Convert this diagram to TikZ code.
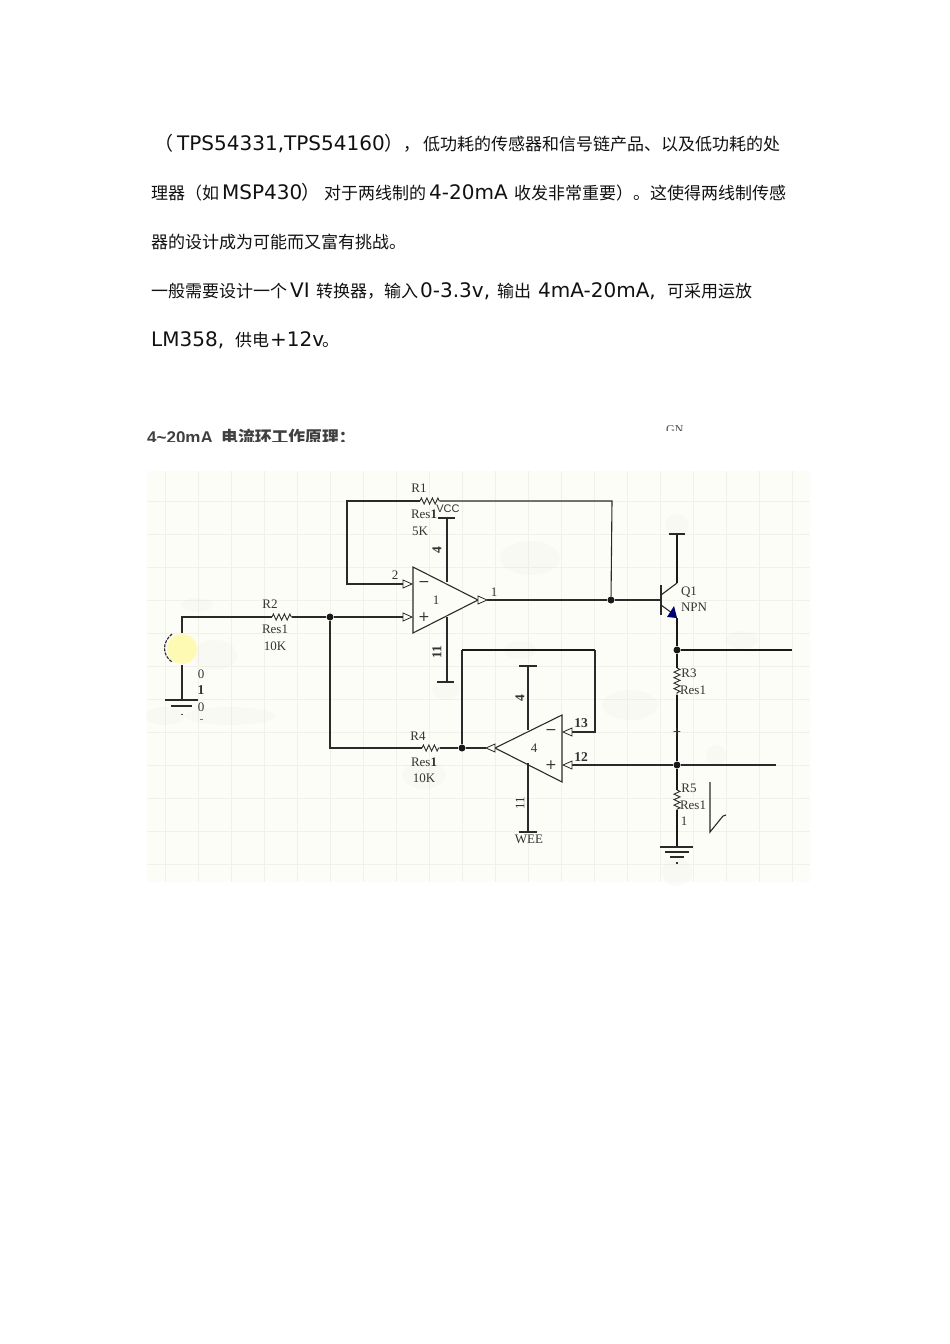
\documentclass[tikz,border=0pt]{standalone}
\usepackage{fontspec}
\setmainfont{DejaVu Sans}
\newfontfamily\cjk{Noto Sans CJK SC}
\newfontfamily\serifl{Liberation Serif}
\newfontfamily\headl{Liberation Sans}
\usetikzlibrary{decorations.pathmorphing,calc}
\definecolor{bgc}{HTML}{FDFDF8}
\definecolor{gridc}{HTML}{F1F1EA}
\definecolor{wirec}{HTML}{2A2A2A}
\definecolor{txt}{HTML}{111111}
\tikzset{
 x=1pt,y=-1pt,
 lat/.style={anchor=base west,inner sep=0,font=\fontsize{20}{20}\selectfont,text=txt},
 han/.style={anchor=base west,inner sep=0,font=\cjk\fontsize{17}{17}\selectfont,text=txt},
 wire/.style={draw=wirec,line width=1.1pt,line join=miter},
 thick wire/.style={draw=black!90,line width=1.7pt},
 lab/.style={inner sep=0,font=\serifl\fontsize{13}{13}\selectfont,text=black!80},
 blab/.style={inner sep=0,font=\serifl\bfseries\fontsize{13.5}{13.5}\selectfont,text=black!80},
 res/.style={draw=wirec,line width=0.9pt,decorate,decoration={zigzag,amplitude=3pt,segment length=5.5pt}},
 junction/.style={circle,fill=black!90,inner sep=0,minimum size=7pt},
 pinmark/.style={draw=wirec,line width=0.8pt,fill=bgc},
 smudge/.style={fill=black!30,opacity=0.045,draw=none},
}
\newcommand{\pinright}[2]{\draw[pinmark] (#1,#2-4)--(#1,#2+4)--(#1+9,#2)--cycle;}
\newcommand{\pinleft}[2]{\draw[pinmark] (#1,#2-4)--(#1,#2+4)--(#1-9,#2)--cycle;}
\begin{document}
\begin{tikzpicture}
\useasboundingbox (0,0) rectangle (950,1344);
\fill[white] (0,0) rectangle (950,1344);
% paragraph
\node[han,font=\cjk\fontsize{19}{19}\selectfont] (a0) at (154,150) {（};
\node[lat] (a1) at (177,150) {TPS54331,TPS54160};
\node[han,font=\cjk\fontsize{19}{19}\selectfont] (a2) at (384,150) {）};
\node[han] (a3) at (403,150) {，};
\node[han] (a4) at (423,150) {低功耗的传感器和信号链产品、以及低功耗的处};
\node[han] (b1) at (151,199) {理器（如};
\node[lat] (b2) at (222,199) {MSP430};
\node[han,font=\cjk\fontsize{19}{19}\selectfont] (b2b) at (301,199) {）};
\node[han] (b3) at (324,199) {对于两线制的};
\node[lat] (b4) at (429,199) {4-20mA};
\node[han] (b5) at (514,199) {收发非常重要）。这使得两线制传感};
\node[han] (c1) at (151,248) {器的设计成为可能而又富有挑战。};
\node[han] (d1) at (151,297) {一般需要设计一个};
\node[lat] (d2) at (290,297) {VI};
\node[han] (d3) at (316,297) {转换器，输入};
\node[lat] (d4) at (420,297) {0-3.3v,};
\node[han] (d5) at (497,297) {输出};
\node[lat] (d6) at (538,297) {4mA-20mA,};
\node[han] (d7) at (667,297) {可采用运放};
\node[lat] (e1) at (151,346) {LM358,};
\node[han] (e2) at (235,346) {供电};
\node[lat] (e3) at (270,346) {+12v};
\node[han] (e4) at (322,346) {。};
% clipped captions
\begin{scope}
\clip (140,420) rectangle (400,441);
\node[anchor=base west,inner sep=0,font=\headl\bfseries\fontsize{17}{17}\selectfont,text=black!75] (h1) at (147,443) {4\textasciitilde20mA};
\node[anchor=base west,inner sep=0,font=\cjk\bfseries\fontsize{16.8}{16.8}\selectfont,text=black!75] (h2) at (221,443) {电流环工作原理：};
\end{scope}
\begin{scope}
\clip (660,420) rectangle (690,430);
\node[anchor=base west,inner sep=0,font=\serifl\fontsize{12}{12}\selectfont,text=black!70] (gn) at (666,433) {GN};
\end{scope}
% schematic background
\fill[bgc] (147,471) rectangle (810,882);
\foreach \gx in {165,198,...,800} \draw[gridc,line width=0.7pt] (\gx,471)--(\gx,882);
\foreach \gy in {501,534,...,880} \draw[gridc,line width=0.7pt] (147,\gy)--(810,\gy);
% smudges
\fill[smudge] (530,558) ellipse (30 and 17);
\fill[smudge] (677,525) ellipse (12 and 11);
\fill[smudge] (742,640) ellipse (16 and 9);
\fill[smudge] (197,605) ellipse (16 and 7);
\fill[smudge] (165,716) ellipse (20 and 9);
\fill[smudge] (230,716) ellipse (45 and 9);
\fill[smudge] (520,650) ellipse (16 and 9);
\fill[smudge] (446,690) ellipse (14 and 10);
\fill[smudge] (630,705) ellipse (28 and 15);
\fill[smudge] (716,755) ellipse (10 and 10);
\fill[smudge] (677,872) ellipse (15 and 14);
\fill[smudge] (215,655) ellipse (22 and 15);
\fill[smudge] (424,775) ellipse (22 and 14);
% coordinates
\coordinate (srcTop) at (182,633);
\coordinate (srcCorner) at (182,617);
\coordinate (r2a) at (272,617);
\coordinate (r2b) at (292,617);
\node[junction] (j1) at (330,617) {};
\coordinate (ipIn) at (403,617);
\coordinate (imIn) at (403,584);
\coordinate (fbL) at (347,584);
\coordinate (fbTL) at (347,501);
\coordinate (r1a) at (420,501);
\coordinate (r1b) at (440,501);
\coordinate (fbTR) at (612,501);
\node[junction] (j2) at (611,600) {};
\coordinate (out1) at (487,600);
\coordinate (base) at (661,600);
\coordinate (cBar) at (677,534);
\coordinate (cKnee) at (677,583);
\coordinate (eKnee) at (677,618);
\node[junction] (j3) at (677,650) {};
\node[junction] (j4) at (677,765) {};
\node[junction] (j5) at (462,748) {};
\coordinate (r3a) at (677,668);
\coordinate (r3b) at (677,695);
\coordinate (r5a) at (677,790);
\coordinate (r5b) at (677,810);
\coordinate (gnd2) at (677,847);
\coordinate (r4a) at (422,748);
\coordinate (r4b) at (440,748);
\coordinate (j1d) at (330,748);
\coordinate (tR) at (792,650);
\coordinate (fb2a) at (462,650);
\coordinate (fb2b) at (595,650);
\coordinate (fb2c) at (595,732);
\coordinate (in2m) at (571,732);
\coordinate (in2p) at (571,765);
\coordinate (sense) at (776,765);
\coordinate (tip2) at (486,748);
% wires
\draw[wire] (srcTop)--(srcCorner)--(r2a);
\draw[res] (r2a)--(r2b);
\draw[wire] (r2b)--(j1)--(ipIn);
\draw[wire] (j1)--(j1d)--(r4a);
\draw[res] (r4a)--(r4b);
\draw[wire] (r4b)--(j5);
\draw[wire] (j5)--(tip2);
\draw[wire] (j5)--(fb2a);
\draw[thick wire] (fb2a)--(fb2b);
\draw[wire] (fb2b)--(fb2c)--(in2m);
\draw[wire] (imIn)--(fbL)--(fbTL)--(r1a);
\draw[res] (r1a)--(r1b);
\draw[wire] (r1b)--(fbTR)--(j2);
\draw[wire] (out1)--(j2)--(base);
\draw[wire] (in2p)--(j4)--(sense);
\draw[thick wire] (j3)--(tR);
% op amps
\node[inner sep=0] (ampa) at (436,600) {};
\draw[draw=wirec,line width=1.1pt,fill=bgc] (413,567)--(413,633)--(478,600)--cycle;
\draw[draw=wirec,line width=1.1pt,fill=bgc] (562,715)--(562,782)--(495,748)--cycle;
\pinright{403}{584}
\pinright{403}{617}
\pinright{478}{600}
\pinleft{572}{732}
\pinleft{572}{765}
\pinleft{495}{748}
% power
\coordinate (vcc) at (447,518);
\coordinate (vccA) at (447,582);
\coordinate (vssA) at (447,617);
\coordinate (vss) at (447,682);
\coordinate (vcc2) at (528,666);
\coordinate (vcc2A) at (528,730);
\coordinate (vee2A) at (528,763);
\coordinate (vee2) at (528,832);
\draw[wire] (vcc)--(vccA); \draw[wire] (vssA)--(vss);
\draw[wire] (vcc2)--(vcc2A); \draw[wire] (vee2A)--(vee2);
\draw[wire] (438,518)--(455,518);
\draw[wire,line width=1.3pt] (437,682)--(454,682);
\draw[wire] (519,666)--(537,666);
\draw[wire] (519,832)--(537,832);
% transistor
\draw[wire] (661,585)--(661,615);
\draw[wire] (661,595)--(cKnee);
\draw[thick wire] (cKnee)--(cBar);
\draw[wire] (669,534)--(685,534);
\draw[wire] (661,605)--(672,613);
\fill[blue!45!black] (677,618)--(667,617)--(674,606)--cycle;
\draw[thick wire] (eKnee)--(j3)--(r3a);
\draw[res] (r3a)--(r3b);
\draw[thick wire] (r3b)--(j4)--(r5a);
\draw[res] (r5a)--(r5b);
\draw[thick wire] (r5b)--(gnd2);
\node[inner sep=0,font=\fontsize{11}{11}\selectfont,text=black!80] (cross) at (677,732) {+};
% ground right
\draw[wire,line width=1.2pt] (660,847)--(693,847);
\draw[wire] (665,852)--(689,852);
\draw[wire] (670,857)--(684,857);
\fill[black!80] (676,862) rectangle (678,864);
% source
\fill[yellow!28!bgc] (182,649) circle (15);
\draw[black!85,line width=1.1pt,dashed,dash pattern=on 3pt off 1.2pt] (172,634) .. controls (162,642) and (162,655) .. (172,662);
\coordinate (srcB) at (182,665);
\coordinate (srcG) at (182,700);
\draw[wire] (srcB)--(srcG);
\draw[wire] (165,700)--(198,700);
\draw[wire] (171,706)--(192,706);
\fill[black!70] (181,714) rectangle (183,715);
\fill[black!55] (200,719) rectangle (203,720);
% scribble
\draw[wire] (710,782)--(710,832)--(723,816)--(726,815);
% labels
\node[lab] (lr1) at (419,488) {R1};
\node[lab] (lr1a) at (424,514) {Res\textbf{1}};
\node[lab,font=\headl\fontsize{11}{11}\selectfont] (lvcc) at (448,509) {VCC};
\node[lab] (lr1v) at (420,531) {5K};
\node[blab,rotate=90] (lp4) at (437,550) {4};
\node[lab] (lp2) at (395,575) {2};
\node[lab] (la1) at (436,600) {1};
\node[lab,font=\fontsize{14}{14}\selectfont] (lm1) at (424,584) {−};
\node[lab,font=\fontsize{14}{14}\selectfont] (lp1) at (424,617) {+};
\node[lab] (lo1) at (494,592) {1};
\node[blab,rotate=90] (lp11) at (437,652) {11};
\node[lab] (lr2) at (270,604) {R2};
\node[lab] (lr2a) at (275,629) {Res1};
\node[lab] (lr2v) at (275,646) {10K};
\node[lab] (ls0) at (201,674) {0};
\node[blab] (ls1) at (201,690) {1};
\node[lab] (ls2) at (201,707) {0};
\node[lab] (lr4) at (418,736) {R4};
\node[lab] (lr4a) at (424,762) {Res\textbf{1}};
\node[lab] (lr4v) at (424,778) {10K};
\node[lab] (lq) at (689,592) {Q1};
\node[lab] (lq2) at (694,607) {NPN};
\node[lab] (lr3) at (689,673) {R3};
\node[lab] (lr3a) at (693,690) {Res1};
\node[lab] (lr5) at (689,788) {R5};
\node[lab] (lr5a) at (693,805) {Res1};
\node[lab] (lr5v) at (684,821) {1};
\node[blab] (l13) at (581,723) {13};
\node[blab] (l12) at (581,757) {12};
\node[lab] (la4) at (534,748) {4};
\node[lab,font=\fontsize{14}{14}\selectfont] (lm4) at (551,732) {−};
\node[lab,font=\fontsize{14}{14}\selectfont] (lp4b) at (551,765) {+};
\node[blab,rotate=90] (lv4) at (520,698) {4};
\node[lab,rotate=90] (lv11) at (520,803) {11};
\node[lab] (lwee) at (529,839) {WEE};
\end{tikzpicture}
\end{document}
